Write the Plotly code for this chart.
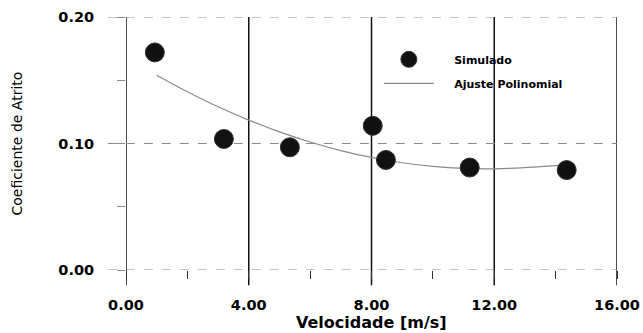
import plotly.graph_objects as go

# Simulated data points
vel_sim = [0.94, 3.19, 5.34, 8.04, 8.47, 11.2, 14.36]
atr_sim = [0.172, 0.1036, 0.097, 0.114, 0.087, 0.081, 0.079]

# Polynomial fit curve
vel_fit = [1.0, 2, 3, 4, 5, 6, 7, 8, 9, 10, 11, 12, 13, 14, 14.4]
atr_fit = [0.154, 0.1409, 0.129, 0.1185, 0.1092, 0.1012, 0.0944, 0.089,
           0.0848, 0.0819, 0.0803, 0.080, 0.0809, 0.0825, 0.083]

x_ticks = [0, 4, 8, 12, 16]
y_ticks = [0.0, 0.1, 0.2]

font_family = "DejaVu Sans, Arial, sans-serif"
pad = "\u00a0\u00a0\u00a0\u00a0"

fig = go.Figure()
fig.add_trace(go.Scatter(
    x=vel_fit, y=atr_fit, mode="lines", name=pad + "Ajuste Polinomial",
    legendrank=2, legendgroup="fit",
    line=dict(color="#8a8a8a", width=1.2, shape="spline"),
))
fig.add_trace(go.Scatter(
    x=vel_sim, y=atr_sim, mode="markers", name=pad + "Simulado",
    legendrank=1, legendgroup="sim",
    marker=dict(size=19, color="#111111", line=dict(color="#333333", width=1)),
))

shapes = []
for xv in x_ticks:
    shapes.append(dict(type="line", xref="x", yref="paper", x0=xv, x1=xv,
                       y0=-0.06, y1=1, layer="below",
                       line=dict(color="#111111", width=1.5)))
for yv in y_ticks:
    shapes.append(dict(type="line", xref="paper", yref="y", x0=-0.037, x1=1,
                       y0=yv, y1=yv, layer="below",
                       line=dict(color="#8a8a8a", width=1, dash="dash")))

fig.update_layout(
    width=643, height=333,
    margin=dict(l=126, r=26, t=17, b=63),
    paper_bgcolor="white", plot_bgcolor="white",
    font=dict(family=font_family, color="black"),
    showlegend=True,
    shapes=shapes,
    legend=dict(
        x=0.515, y=0.89, xanchor="left", yanchor="top",
        bgcolor="rgba(0,0,0,0)", traceorder="grouped", tracegroupgap=5,
        font=dict(size=11, weight="bold", family=font_family),
        itemwidth=50,
    ),
    xaxis=dict(
        range=[0, 16], tickvals=x_ticks, tickformat=".2f",
        showgrid=False, automargin=False,
        ticks="outside", ticklen=22, tickcolor="rgba(0,0,0,0)", tickwidth=1,
        minor=dict(dtick=2, tick0=0, ticks="outside", ticklen=8,
                   tickcolor="#333333", tickwidth=1, showgrid=False),
        showline=False, zeroline=False,
        tickfont=dict(size=14.5, weight="bold"),
    ),
    yaxis=dict(
        range=[0, 0.2], tickvals=y_ticks, tickformat=".2f",
        showgrid=False, automargin=False,
        ticks="outside", ticklen=28, tickcolor="rgba(0,0,0,0)", tickwidth=1,
        minor=dict(dtick=0.05, tick0=0, ticks="outside", ticklen=8,
                   tickcolor="#8a8a8a", tickwidth=1, showgrid=False),
        showline=False, zeroline=False,
        tickfont=dict(size=14.5, weight="bold"),
    ),
    annotations=[
        dict(text="Velocidade [m/s]", xref="paper", yref="paper",
             x=0.5, y=-0.206, xanchor="center", yanchor="middle",
             showarrow=False, font=dict(size=16, weight="bold")),
        dict(text="Coeficiente de Atrito", xref="paper", yref="paper",
             x=-0.222, y=0.5, xanchor="center", yanchor="middle",
             textangle=-90, showarrow=False, font=dict(size=14)),
    ],
)

fig.write_html("out.html", config={"displayModeBar": False},
               post_script="document.body.style.margin='0';")
